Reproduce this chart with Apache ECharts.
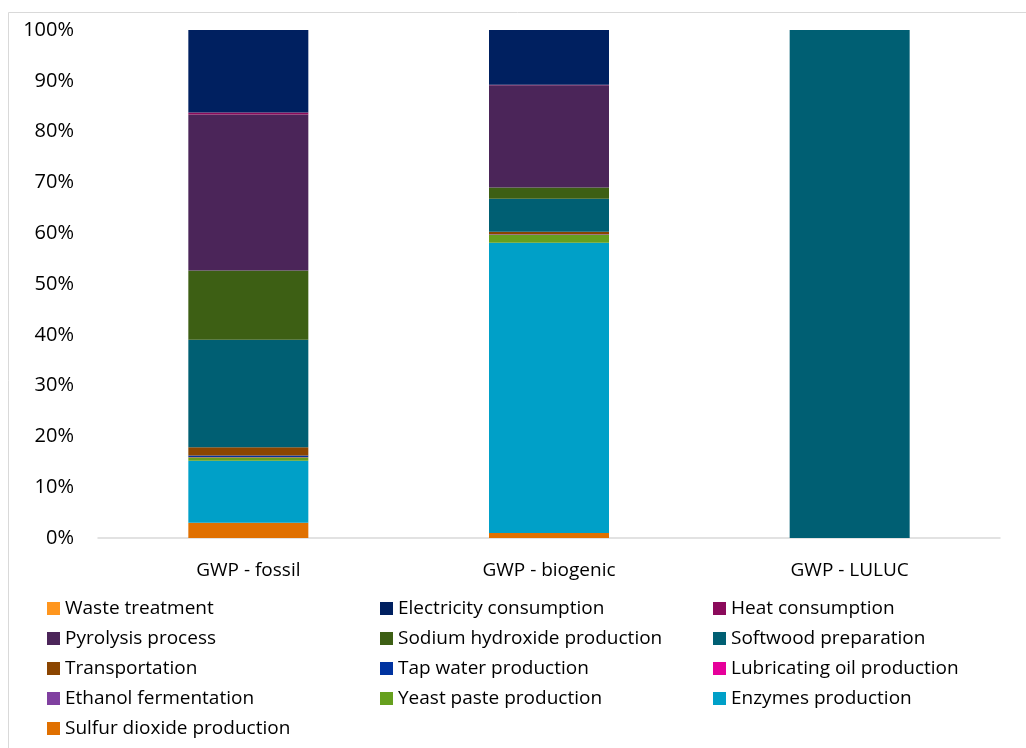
<!DOCTYPE html>
<html>
<head>
<meta charset="utf-8">
<title>GWP contribution</title>
<script src="https://cdn.jsdelivr.net/npm/echarts@6/dist/echarts.min.js"></script>
<style>
  html, body { margin: 0; padding: 0; background: #fff; }
  #chart { width: 1026px; height: 748px; }
</style>
</head>
<body>
<div id="chart"></div>
<script>
// categories and y ticks
const categories = ['GWP - fossil', 'GWP - biogenic', 'GWP - LULUC']
const yTicks = [0, 10, 20, 30, 40, 50, 60, 70, 80, 90, 100]

// legend order (as shown), stack order is the reverse
const seriesNames = [
  'Waste treatment', 'Electricity consumption', 'Heat consumption',
  'Pyrolysis process', 'Sodium hydroxide production', 'Softwood preparation',
  'Transportation', 'Tap water production', 'Lubricating oil production',
  'Ethanol fermentation', 'Yeast paste production', 'Enzymes production',
  'Sulfur dioxide production'
]

// share (%) per category: fossil, biogenic, LULUC
const wasteTreatment = [0, 0, 0]
const electricity = [16.25, 10.8, 0]
const heat = [0.4, 0.1, 0]
const pyrolysis = [30.7, 20.1, 0]
const sodiumHydroxide = [13.6, 2.2, 0]
const softwood = [21.2, 6.5, 100]
const transportation = [1.6, 0.5, 0]
const tapWater = [0.3, 0.05, 0]
const lubricatingOil = [0.05, 0.05, 0]
const ethanol = [0, 0, 0]
const yeastPaste = [0.7, 1.6, 0]
const enzymes = [12.2, 57.1, 0]
const sulfurDioxide = [3.0, 1.0, 0]

const seriesValues = [
  wasteTreatment, electricity, heat, pyrolysis, sodiumHydroxide, softwood,
  transportation, tapWater, lubricatingOil, ethanol, yeastPaste, enzymes,
  sulfurDioxide
]

const colors = [
  '#FF961E', '#002060', '#8B0A5B', '#4B2559', '#3D5F14', '#005F73',
  '#8B4500', '#0033A0', '#E6009A', '#8040A0', '#66A01E', '#00A0C8',
  '#E07000'
]

const font = '"Open Sans", "Noto Sans", sans-serif'

const chart = echarts.init(document.getElementById('chart'))

// stack from the bottom: last legend item first
const series = []
for (let i = seriesNames.length - 1; i >= 0; i--) {
  series.push({
    name: seriesNames[i],
    type: 'bar',
    stack: 'total',
    barWidth: 120,
    data: seriesValues[i],
    itemStyle: { color: colors[i] }
  })
}

const legendBase = {
  orient: 'vertical',
  top: 598,
  height: 150,
  padding: 0,
  itemWidth: 13,
  itemHeight: 13,
  itemGap: 9,
  icon: 'rect',
  selectedMode: false,
  textStyle: { fontFamily: font, fontSize: 19, color: '#000', lineHeight: 21 }
}
const col = (start) => seriesNames.filter((_, i) => i % 3 === start)

const option = {
  animation: false,
  color: colors,
  graphic: [{
    type: 'rect',
    shape: { x: 8.5, y: 12.5, width: 1100, height: 900 },
    style: { fill: 'none', stroke: '#d9d9d9', lineWidth: 1 },
    silent: true
  }],
  grid: { left: 98, right: 26, top: 30, bottom: 210 },
  legend: [
    Object.assign({}, legendBase, { left: 47, data: col(0) }),
    Object.assign({}, legendBase, { left: 380, data: col(1) }),
    Object.assign({}, legendBase, { left: 713, data: col(2) })
  ],
  xAxis: {
    type: 'category',
    data: categories,
    axisTick: { show: false },
    axisLine: { lineStyle: { color: '#d9d9d9', width: 1.5 } },
    axisLabel: { fontFamily: font, fontSize: 19, color: '#000', margin: 23 }
  },
  yAxis: {
    type: 'value',
    min: yTicks[0],
    max: yTicks[yTicks.length - 1],
    interval: yTicks[1] - yTicks[0],
    splitLine: { show: false },
    axisLine: { show: false },
    axisTick: { show: false },
    axisLabel: {
      fontFamily: font, fontSize: 20, color: '#000', margin: 24,
      formatter: '{value}%'
    }
  },
  series: series
}

chart.setOption(option)
</script>
</body>
</html>
